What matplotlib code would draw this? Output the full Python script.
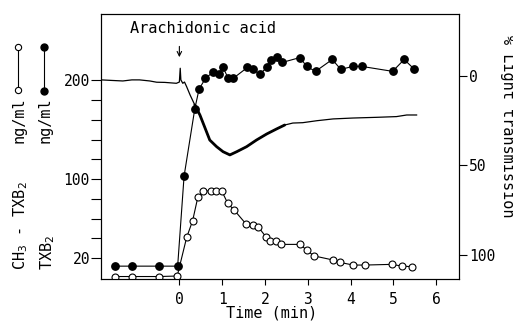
import matplotlib
matplotlib.use("Agg")
import matplotlib.pyplot as plt
from matplotlib.lines import Line2D

plt.rcParams['font.family'] = ['DejaVu Sans Mono', 'DejaVu Sans']
plt.rcParams['mathtext.fontset'] = 'dejavusans'

# TXB2 (filled circles), ng/ml
txb2_t = [-1.51, -1.11, -0.48, -0.04, 0.11, 0.36, 0.46, 0.61, 0.78, 0.92, 1.02, 1.14, 1.26,
          1.59, 1.72, 1.88, 2.04, 2.13, 2.29, 2.40, 2.82, 2.97, 3.18, 3.57, 3.77, 4.05, 4.26,
          4.98, 5.25, 5.49]
txb2_v = [12, 12, 12, 12, 103, 171, 191, 202, 208, 206, 213, 202, 202,
          213, 211, 206, 213, 220, 224, 218, 223, 214, 209, 221, 211, 214, 214,
          209, 221, 211]

# CH3-TXB2 (open circles), ng/ml
ch3_t = [-1.51, -1.11, -0.48, -0.05, 0.17, 0.31, 0.43, 0.56, 0.73, 0.85, 0.99, 1.13, 1.28,
         1.55, 1.71, 1.84, 2.02, 2.11, 2.25, 2.37, 2.82, 2.97, 3.14, 3.59, 3.76, 4.06, 4.33,
         4.96, 5.19, 5.44]
ch3_v = [1.5, 1.5, 1.5, 2, 41, 58, 81.5, 88, 88, 88, 88, 75.5, 68.7,
         55, 53.5, 51.8, 41.7, 37.7, 37.7, 34, 34, 28.3, 22.4, 18.2, 15.7, 13.1, 13.1,
         13.8, 12.1, 11.4]

# Light transmission trace (%)
trace_t = [-1.82, -1.58, -1.32, -1.11, -0.93, -0.69, -0.53, -0.34, -0.07, 0.0, 0.02, 0.035,
           0.08, 0.12, 0.17, 0.25, 0.36, 0.48, 0.60, 0.71, 0.87, 1.02, 1.18, 1.34, 1.57,
           1.80, 2.04, 2.27, 2.46, 2.65, 2.88, 3.21, 3.59, 4.05, 4.61, 5.07, 5.31, 5.54]
trace_T = [2.2, 2.5, 2.8, 2.2, 2.2, 2.8, 3.5, 3.6, 4.1, 3.4, -4.3, 2.2,
           4.1, 3.4, 6.0, 10.6, 16.2, 21.8, 29.1, 35.8, 39.5, 42.3, 44.1, 42.3, 39.5,
           35.8, 32.4, 29.6, 27.4, 26.3, 26.1, 25.0, 24.0, 23.5, 23.1, 22.7, 21.8, 21.8]

x_ticks = [0, 1, 2, 3, 4, 5, 6]
left_ticks = [20, 40, 60, 80, 100, 120, 140, 160, 180, 200]
left_labels = ['20', '', '', '', '100', '', '', '', '', '200']
right_ticks = [0, 50, 100]

fig = plt.figure(figsize=(5.13, 3.22), dpi=100)
ax = fig.add_axes([101/513, 1-279/322, 358/513, 265/322])
ax2 = ax.twinx()

ax.set_zorder(ax2.get_zorder() + 1)
ax.patch.set_visible(False)

# trace
ax2.plot(trace_t, trace_T, color='black', lw=0.9)
ax2.plot(trace_t[16:29], trace_T[16:29], color='black', lw=2.0, solid_capstyle='round')

# series
ax.plot(ch3_t, ch3_v, color='black', lw=0.8, marker='o', ms=5, mfc='white', mec='black', mew=0.8)
ax.plot(txb2_t, txb2_v, color='black', lw=0.8, marker='o', ms=5.3, mfc='black', mec='black')

ax.set_xlim(-1.83, 6.53)
ax.set_ylim(-1, 267)
ax2.set_ylim(113.4, -34.6)

ax.set_xticks(x_ticks)
ax.set_xticklabels([str(v) for v in x_ticks])
ax.set_yticks(left_ticks)
ax.set_yticklabels(left_labels)
ax2.set_yticks(right_ticks)
ax2.set_yticklabels([str(v) for v in right_ticks])

ax.tick_params(axis='y', direction='out', length=7, width=0.8, pad=1, labelsize=10.5)
ax.tick_params(axis='x', direction='out', length=4, width=0.8, pad=5, labelsize=10.5)
ax2.tick_params(axis='y', direction='out', length=6, width=0.8, pad=1, labelsize=10.5)
for a in (ax, ax2):
    for s in a.spines.values():
        s.set_linewidth(0.8)

# annotation
ax2.annotate('', xy=(0, -10.5), xytext=(0, -16.5),
             arrowprops=dict(arrowstyle='->', lw=0.8, color='black', mutation_scale=8,
                             shrinkA=0, shrinkB=0))
ax.text(0.285, 0.947, 'Arachidonic acid', transform=ax.transAxes, ha='center', va='center',
        fontsize=11)

fig.text(272/513, 1-313/322, 'Time (min)', ha='center', va='center', fontsize=11)
fig.text(507/513, 1-126/322, '% Light transmission', rotation=270, ha='center', va='center',
         fontsize=11)

# left labels
fig.text(19/513, 1-120/322, 'ng/ml', rotation=90, ha='center', va='center', fontsize=11)
fig.text(45/513, 1-120/322, 'ng/ml', rotation=90, ha='center', va='center', fontsize=11)
fig.text(21/513, 1-270/322, r'CH$_3$ - TXB$_2$', rotation=90, ha='center', va='bottom', fontsize=11)
fig.text(48/513, 1-270/322, r'TXB$_2$', rotation=90, ha='center', va='bottom', fontsize=11)

# legend keys
fig.add_artist(Line2D([18/513, 18/513], [1-47/322, 1-90/322], transform=fig.transFigure,
                      color='black', lw=0.8, marker='o', ms=4.5, mfc='white', mec='black', mew=0.8))
fig.add_artist(Line2D([44/513, 44/513], [1-47/322, 1-91/322], transform=fig.transFigure,
                      color='black', lw=0.8, marker='o', ms=5, mfc='black', mec='black'))

fig.savefig('out.png', dpi=100)
